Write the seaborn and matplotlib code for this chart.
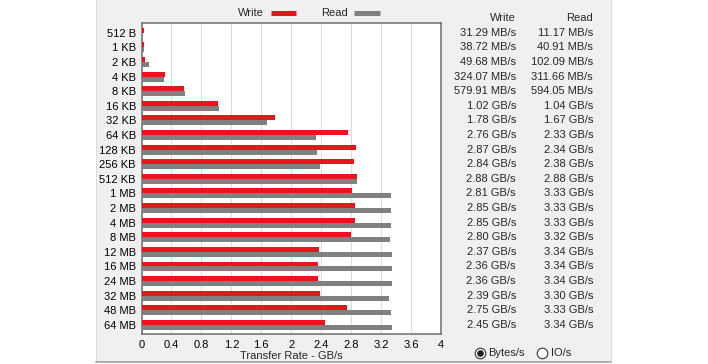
import pandas as pd
import numpy as np
import matplotlib
matplotlib.use('Agg')
import matplotlib.pyplot as plt
import seaborn as sns
from matplotlib.lines import Line2D
from matplotlib.patches import Rectangle
from matplotlib import transforms

sizes = ['512 B', '1 KB', '2 KB', '4 KB', '8 KB', '16 KB', '32 KB', '64 KB',
         '128 KB', '256 KB', '512 KB', '1 MB', '2 MB', '4 MB', '8 MB',
         '12 MB', '16 MB', '24 MB', '32 MB', '48 MB', '64 MB']

write_labels = ['31.29 MB/s', '38.72 MB/s', '49.68 MB/s', '324.07 MB/s', '579.91 MB/s',
                '1.02 GB/s', '1.78 GB/s', '2.76 GB/s', '2.87 GB/s', '2.84 GB/s',
                '2.88 GB/s', '2.81 GB/s', '2.85 GB/s', '2.85 GB/s', '2.80 GB/s',
                '2.37 GB/s', '2.36 GB/s', '2.36 GB/s', '2.39 GB/s', '2.75 GB/s',
                '2.45 GB/s']

read_labels = ['11.17 MB/s', '40.91 MB/s', '102.09 MB/s', '311.66 MB/s', '594.05 MB/s',
               '1.04 GB/s', '1.67 GB/s', '2.33 GB/s', '2.34 GB/s', '2.38 GB/s',
               '2.88 GB/s', '3.33 GB/s', '3.33 GB/s', '3.33 GB/s', '3.32 GB/s',
               '3.34 GB/s', '3.34 GB/s', '3.34 GB/s', '3.30 GB/s', '3.33 GB/s',
               '3.34 GB/s']

x_ticks = [0, 0.4, 0.8, 1.2, 1.6, 2, 2.4, 2.8, 3.2, 3.6, 4]


def to_gbs(label):
    num, unit = label.split()
    num = float(num)
    if unit.startswith('MB'):
        return num / 1024
    return num


df = pd.DataFrame({
    'size': sizes * 2,
    'rate': [to_gbs(s) for s in write_labels] + [to_gbs(s) for s in read_labels],
    'kind': ['Write'] * len(sizes) + ['Read'] * len(sizes),
})

W, H = 708, 364
red = '#e8161c'
grey = '#808080'
fs = 8

sns.set_style('white')
plt.rcParams['font.family'] = ['Liberation Sans', 'DejaVu Sans']
plt.rcParams['font.size'] = fs

fig = plt.figure(figsize=(W / 100, H / 100), dpi=100)
fig.patch.set_facecolor('white')

# grey dialog panel
fig.add_artist(Rectangle((96 / W, 1 - 362 / H), (611 - 96) / W, 362 / H,
                         transform=fig.transFigure, facecolor='#f0f0f0',
                         edgecolor='none', zorder=0))
fig.add_artist(Line2D([96 / W, 96 / W], [1 - 362 / H, 1], transform=fig.transFigure,
                      color='#dcdcdc', lw=0.8))
fig.add_artist(Line2D([611 / W, 611 / W], [1 - 362 / H, 1], transform=fig.transFigure,
                      color='#dcdcdc', lw=0.8))
fig.add_artist(Line2D([96 / W, 611 / W], [1 - 362 / H, 1 - 362 / H], transform=fig.transFigure,
                      color='#a0a0a0', lw=1.2))

ax = fig.add_axes([141.5 / W, 1 - 334 / H, (441 - 141.5) / W, (334 - 22.5) / H])
ax.set_facecolor('white')

sns.barplot(data=df, x='rate', y='size', hue='kind', orient='h', order=sizes,
            hue_order=['Write', 'Read'], palette=[red, grey], width=0.68,
            gap=0, saturation=1, legend=False, ax=ax, zorder=3,
            linewidth=0, edgecolor='none')

ax.set_xlim(0, 4)
ax.set_ylim(20.62, -0.7)
ax.set_xticks(x_ticks)
ax.set_xticklabels([f'{v:g}' for v in x_ticks], fontsize=fs)
ax.tick_params(axis='both', length=0, colors='black')
ax.tick_params(axis='x', pad=4)
ax.tick_params(axis='y', pad=4, labelsize=fs)
ax.grid(axis='x', color='#dcdcdc', lw=0.8, zorder=0)
ax.grid(axis='y', visible=False)
ax.set_axisbelow(True)
ax.set_ylabel('')
ax.set_xlabel('Transfer Rate - GB/s', fontsize=fs, labelpad=1)
for sp in ax.spines.values():
    sp.set_color('#6e6e6e')
    sp.set_linewidth(1.1)

# legend: text then swatch
handles = [Line2D([0], [0], color=red, lw=3.6, solid_capstyle='butt'),
           Line2D([0], [0], color=grey, lw=3.6, solid_capstyle='butt')]
fig.legend(handles, ['Write', 'Read'], markerfirst=False, ncol=2, frameon=False,
           loc='center', bbox_to_anchor=(309 / W, 1 - 13.5 / H), handlelength=2.3,
           handletextpad=0.6, columnspacing=2.2, fontsize=fs)

# value table at the right
tr = transforms.blended_transform_factory(fig.transFigure, ax.transData)
fig.text(516 / W, 1 - 18 / H, 'Write', ha='right', va='center', fontsize=fs)
fig.text(593 / W, 1 - 18 / H, 'Read', ha='right', va='center', fontsize=fs)
for i in range(len(sizes)):
    ax.text(516 / W, i, write_labels[i], transform=tr, ha='right', va='center',
            fontsize=fs, clip_on=False)
    ax.text(593 / W, i, read_labels[i], transform=tr, ha='right', va='center',
            fontsize=fs, clip_on=False)

# radio buttons
ry = 1 - 352.5 / H
for cx, label, on in [(479.5, 'Bytes/s', True), (541.5, 'IO/s', False)]:
    fig.add_artist(Line2D([cx / W], [ry], transform=fig.transFigure, marker='o',
                          markersize=7.6, markerfacecolor='white',
                          markeredgecolor='#333333', markeredgewidth=0.8, lw=0))
    if on:
        fig.add_artist(Line2D([cx / W], [ry], transform=fig.transFigure, marker='o',
                              markersize=3.8, markerfacecolor='#222222',
                              markeredgecolor='#222222', lw=0))
    fig.text((cx + 9) / W, ry, label, ha='left', va='center', fontsize=fs)

fig.savefig('out.png', dpi=100, facecolor='white')
